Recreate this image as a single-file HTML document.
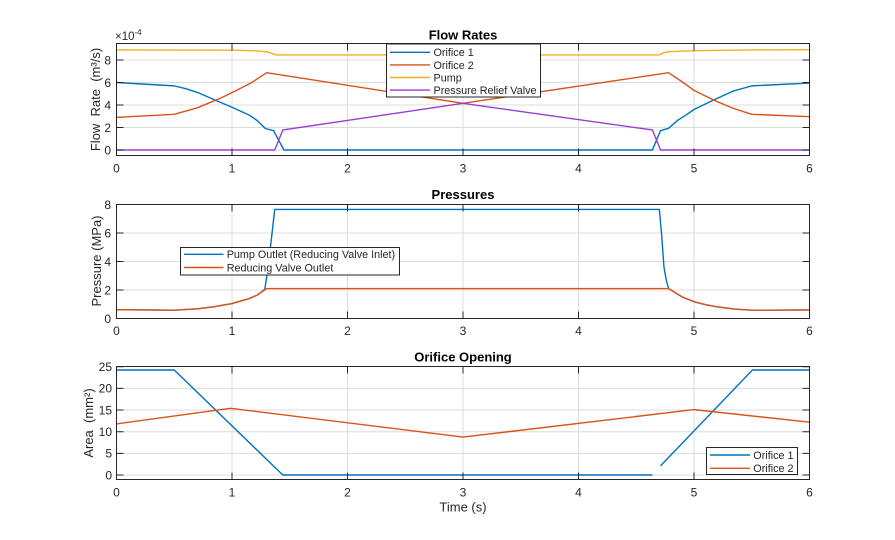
<!DOCTYPE html>
<html><head><meta charset="utf-8"><style>
html,body{margin:0;padding:0;background:#fff;}
svg{display:block;font-family:"Liberation Sans",Arial,sans-serif;}
.tk{font-size:12px;fill:#262626;}
.lb{font-size:13px;fill:#262626;}
.tt{font-size:13px;font-weight:bold;fill:#000;}
.lg{font-size:10.8px;fill:#262626;}
.gr{stroke:#dcdcdc;stroke-width:1;fill:none;}
.ax{stroke:#262626;stroke-width:1;fill:none;}
.d{fill:none;stroke-width:1.4;vector-effect:non-scaling-stroke;stroke-linejoin:round;}
</style></head><body>
<svg width="895" height="540" viewBox="0 0 895 540" xmlns="http://www.w3.org/2000/svg">
<rect width="895" height="540" fill="#fff"/>

<!-- ===== TOP: Flow Rates ===== -->
<g class="gr">
<path d="M232 43.5V155.5M347.5 43.5V155.5M463 43.5V155.5M578.5 43.5V155.5M694 43.5V155.5"/>
<path d="M116.5 150H809.5M116.5 127.5H809.5M116.5 105H809.5M116.5 82.5H809.5M116.5 60H809.5"/>
</g>
<g transform="translate(116.5,150) scale(115.5,-11.25)">
<polyline class="d" stroke="#0072BD" points="0,6.0 0.5,5.7 0.6,5.45 0.7,5.12 0.84,4.5 1.0,3.8 1.15,3.1 1.22,2.6 1.29,1.9 1.36,1.72 1.45,0 4.64,0 4.71,1.72 4.78,1.93 4.86,2.65 4.94,3.17 5.0,3.6 5.17,4.44 5.34,5.24 5.5,5.7 6,5.95"/>
<polyline class="d" stroke="#D95319" points="0,2.9 0.5,3.17 0.7,3.75 0.84,4.35 0.9,4.6 1.0,5.1 1.16,5.93 1.3,6.87 3.0,4.15 4.78,6.87 4.92,5.9 5.0,5.3 5.17,4.44 5.34,3.7 5.5,3.17 6,2.96"/>
<polyline class="d" stroke="#EDB120" points="0,8.9 1.0,8.87 1.2,8.82 1.3,8.74 1.34,8.6 1.38,8.45 4.70,8.45 4.74,8.65 4.78,8.74 5.0,8.83 5.5,8.89 6,8.92"/>
<polyline class="d" stroke="#9B3BD6" points="0,0 1.37,0 1.44,1.78 3.0,4.15 4.64,1.78 4.71,0 6,0"/>
</g>
<rect class="ax" x="116.5" y="43.5" width="693" height="112"/>
<g class="ax">
<path d="M232 155.5v-7M347.5 155.5v-7M463 155.5v-7M578.5 155.5v-7M694 155.5v-7"/>
<path d="M232 43.5v7M347.5 43.5v7M463 43.5v7M578.5 43.5v7M694 43.5v7"/>
<path d="M116.5 150h7M116.5 127.5h7M116.5 105h7M116.5 82.5h7M116.5 60h7"/>
<path d="M809.5 150h-7M809.5 127.5h-7M809.5 105h-7M809.5 82.5h-7M809.5 60h-7"/>
</g>
<g class="tk" text-anchor="middle">
<text x="116.5" y="172.5">0</text><text x="232" y="172.5">1</text><text x="347.5" y="172.5">2</text><text x="463" y="172.5">3</text><text x="578.5" y="172.5">4</text><text x="694" y="172.5">5</text><text x="809.5" y="172.5">6</text>
</g>
<g class="tk" text-anchor="end">
<text x="111" y="154.3">0</text><text x="111" y="131.8">2</text><text x="111" y="109.3">4</text><text x="111" y="86.8">6</text><text x="111" y="64.3">8</text>
</g>
<text x="115" y="40" style="font-size:11.5px;fill:#262626">×10<tspan dy="-5" style="font-size:8px">-4</tspan></text>
<text class="tt" x="463" y="39.5" text-anchor="middle">Flow Rates</text>
<text class="lb" transform="translate(100,99.5) rotate(-90)" text-anchor="middle">Flow&#160; Rate&#160; (m³/s)</text>
<!-- legend top -->
<rect x="386.5" y="44" width="154" height="53" fill="#fff" stroke="#262626" stroke-width="1"/>
<path d="M390 52.3H430" stroke="#0072BD" stroke-width="1.4"/>
<path d="M390 64.9H430" stroke="#D95319" stroke-width="1.4"/>
<path d="M390 77.5H430" stroke="#EDB120" stroke-width="1.4"/>
<path d="M390 90.1H430" stroke="#9B3BD6" stroke-width="1.4"/>
<g class="lg">
<text x="433.5" y="56.2">Orifice 1</text>
<text x="433.5" y="68.8">Orifice 2</text>
<text x="433.5" y="81.4">Pump</text>
<text x="433.5" y="94">Pressure Relief Valve</text>
</g>

<!-- ===== MIDDLE: Pressures ===== -->
<g class="gr">
<path d="M232 204.5V318.5M347.5 204.5V318.5M463 204.5V318.5M578.5 204.5V318.5M694 204.5V318.5"/>
<path d="M116.5 290H809.5M116.5 261.5H809.5M116.5 233H809.5"/>
</g>
<g transform="translate(116.5,318.5) scale(115.5,-14.25)">
<polyline class="d" stroke="#0072BD" points="0,0.62 0.25,0.6 0.5,0.58 0.7,0.68 0.84,0.82 1.0,1.05 1.15,1.4 1.22,1.65 1.284,2.05 1.30,2.9 1.33,4.8 1.37,7.65 4.70,7.65 4.72,5.85 4.74,3.6 4.76,2.7 4.78,2.1 4.9,1.5 5.0,1.18 5.1,0.97 5.2,0.82 5.35,0.66 5.5,0.58 6,0.6"/>
<polyline class="d" stroke="#D95319" points="0,0.62 0.25,0.6 0.5,0.58 0.7,0.68 0.84,0.82 1.0,1.05 1.15,1.4 1.22,1.65 1.3,2.1 4.78,2.1 4.9,1.5 5.0,1.18 5.1,0.97 5.2,0.82 5.35,0.66 5.5,0.58 6,0.6"/>
</g>
<rect class="ax" x="116.5" y="204.5" width="693" height="114"/>
<g class="ax">
<path d="M232 318.5v-7M347.5 318.5v-7M463 318.5v-7M578.5 318.5v-7M694 318.5v-7"/>
<path d="M232 204.5v7M347.5 204.5v7M463 204.5v7M578.5 204.5v7M694 204.5v7"/>
<path d="M116.5 290h7M116.5 261.5h7M116.5 233h7"/>
<path d="M809.5 290h-7M809.5 261.5h-7M809.5 233h-7"/>
</g>
<g class="tk" text-anchor="middle">
<text x="116.5" y="335">0</text><text x="232" y="335">1</text><text x="347.5" y="335">2</text><text x="463" y="335">3</text><text x="578.5" y="335">4</text><text x="694" y="335">5</text><text x="809.5" y="335">6</text>
</g>
<g class="tk" text-anchor="end">
<text x="111" y="322.8">0</text><text x="111" y="294.3">2</text><text x="111" y="265.8">4</text><text x="111" y="237.3">6</text><text x="111" y="208.8">8</text>
</g>
<text class="tt" x="463" y="199" text-anchor="middle">Pressures</text>
<text class="lb" transform="translate(101,261) rotate(-90)" text-anchor="middle">Pressure (MPa)</text>
<rect x="180.5" y="247.5" width="219" height="27.5" fill="#fff" stroke="#262626" stroke-width="1"/>
<path d="M184 254.3H223.5" stroke="#0072BD" stroke-width="1.4"/>
<path d="M184 267.5H223.5" stroke="#D95319" stroke-width="1.4"/>
<g class="lg">
<text x="226.7" y="258.2">Pump Outlet (Reducing Valve Inlet)</text>
<text x="226.7" y="271.4">Reducing Valve Outlet</text>
</g>

<!-- ===== BOTTOM: Orifice Opening ===== -->
<g class="gr">
<path d="M232 366.5V479.5M347.5 366.5V479.5M463 366.5V479.5M578.5 366.5V479.5M694 366.5V479.5"/>
<path d="M116.5 475H809.5M116.5 453.35H809.5M116.5 431.7H809.5M116.5 410.05H809.5M116.5 388.4H809.5"/>
</g>
<g transform="translate(116.5,475) scale(115.5,-4.33)">
<polyline class="d" stroke="#0072BD" points="0,24.25 0.5,24.25 1.44,0 4.64,0"/>
<polyline class="d" stroke="#0072BD" points="4.71,2.1 5.506,24.25 6,24.25"/>
<polyline class="d" stroke="#D95319" points="0,11.8 0.987,15.4 3.0,8.75 5.0,15.1 6,12.2"/>
</g>
<rect class="ax" x="116.5" y="366.5" width="693" height="113"/>
<g class="ax">
<path d="M232 479.5v-7M347.5 479.5v-7M463 479.5v-7M578.5 479.5v-7M694 479.5v-7"/>
<path d="M232 366.5v7M347.5 366.5v7M463 366.5v7M578.5 366.5v7M694 366.5v7"/>
<path d="M116.5 475h7M116.5 453.35h7M116.5 431.7h7M116.5 410.05h7M116.5 388.4h7M116.5 366.75h7"/>
<path d="M809.5 475h-7M809.5 453.35h-7M809.5 431.7h-7M809.5 410.05h-7M809.5 388.4h-7M809.5 366.75h-7"/>
</g>
<g class="tk" text-anchor="middle">
<text x="116.5" y="496.5">0</text><text x="232" y="496.5">1</text><text x="347.5" y="496.5">2</text><text x="463" y="496.5">3</text><text x="578.5" y="496.5">4</text><text x="694" y="496.5">5</text><text x="809.5" y="496.5">6</text>
</g>
<g class="tk" text-anchor="end">
<text x="112" y="479.3">0</text><text x="112" y="457.6">5</text><text x="112" y="436">10</text><text x="112" y="414.3">15</text><text x="112" y="392.7">20</text><text x="112" y="371">25</text>
</g>
<text class="tt" x="463" y="361.5" text-anchor="middle">Orifice Opening</text>
<text class="lb" transform="translate(93,423) rotate(-90)" text-anchor="middle">Area&#160; (mm²)</text>
<text class="lb" x="463" y="511.5" text-anchor="middle">Time (s)</text>
<rect x="706.5" y="447.5" width="91" height="27" fill="#fff" stroke="#262626" stroke-width="1"/>
<path d="M710 455H750" stroke="#0072BD" stroke-width="1.4"/>
<path d="M710 468.3H750" stroke="#D95319" stroke-width="1.4"/>
<g class="lg">
<text x="753.3" y="458.9">Orifice 1</text>
<text x="753.3" y="472.2">Orifice 2</text>
</g>
</svg>
</body></html>
